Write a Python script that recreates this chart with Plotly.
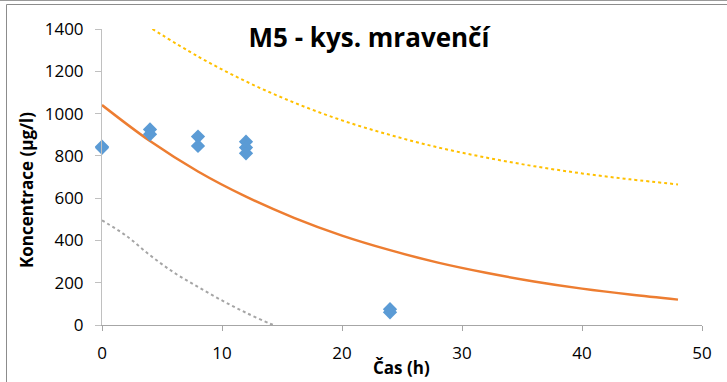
import plotly.graph_objects as go

# Measured concentrations of formic acid (sample M5)
meas_time = [0, 0, 4, 4, 8, 8, 12, 12, 12, 24, 24]
meas_conc = [843, 838, 925, 902, 891, 847, 867, 839, 812, 75, 60]

# Exponential fit curve
fit_time = [0, 4, 8, 12, 16, 20, 24, 28, 32, 36, 40, 44, 48]
fit_conc = [1040, 870, 726, 607, 507, 423, 354, 295, 247, 206, 172, 144, 120]

# Upper bound (dotted yellow)
upper_time = [4.2, 8, 12, 16, 20, 24, 28, 32, 36, 40, 44, 48]
upper_conc = [1400, 1270, 1152, 1052, 968, 899, 840, 792, 751, 717, 689, 665]

# Lower bound (dotted gray)
lower_time = [0, 2, 4, 6, 8, 10, 12, 14, 14.3]
lower_conc = [495, 423, 330, 248, 180, 116, 58, 6, 0]

x_ticks = [0, 10, 20, 30, 40, 50]
y_ticks = [0, 200, 400, 600, 800, 1000, 1200, 1400]

W, H = 727, 382
L, R, T, B = 102, 25, 29, 57
pw, ph = W - L - R, H - T - B

def px(x):
    return (x - L) / pw

def py(y):
    return (H - B - y) / ph

FONT = "Open Sans"
tick_font = dict(family=FONT, size=17, color="#000000")

fig = go.Figure()
fig.add_trace(go.Scatter(x=upper_time, y=upper_conc, mode="lines", line_shape="spline",
                         line=dict(color="#ffc000", width=2, dash="dot"), hoverinfo="skip"))
fig.add_trace(go.Scatter(x=lower_time, y=lower_conc, mode="lines", line_shape="spline",
                         line=dict(color="#a5a5a5", width=2, dash="dot"), hoverinfo="skip"))
fig.add_trace(go.Scatter(x=fit_time, y=fit_conc, mode="lines", line_shape="spline",
                         line=dict(color="#ed7d31", width=2.5), hoverinfo="skip"))
fig.add_trace(go.Scatter(x=meas_time, y=meas_conc, mode="markers",
                         marker=dict(symbol="diamond", size=11, color="#5b9bd5"),
                         cliponaxis=False))

fig.update_layout(
    width=W, height=H,
    margin=dict(l=L, r=R, t=T, b=B),
    paper_bgcolor="white", plot_bgcolor="white",
    showlegend=False,
    font=dict(family=FONT, size=17, color="#000000"),
    title=dict(text="<b>M5 - kys. mravenčí</b>", font=dict(family=FONT, size=26, color="black"),
               xref="container", yref="container", x=369 / W, y=1 - 38 / H,
               xanchor="center", yanchor="middle"),
)
fig.update_xaxes(range=[0, 50], tickvals=x_ticks, showgrid=False, zeroline=False,
                 showline=True, linecolor="#a6a6a6", linewidth=1,
                 ticks="outside", ticklen=5, tickcolor="#a6a6a6",
                 tickfont=tick_font, ticklabelstandoff=8)
fig.update_yaxes(range=[0, 1400], tickvals=y_ticks, showgrid=False, zeroline=False,
                 showline=True, linecolor="#c0c0c0", linewidth=1,
                 ticks="outside", ticklen=6, tickcolor="#c0c0c0",
                 tickfont=tick_font, ticklabelstandoff=8)

fig.add_annotation(text="<b>Koncentrace (µg/l)</b>", textangle=-90, showarrow=False,
                   xref="paper", yref="paper", x=px(27), y=py(190),
                   xanchor="center", yanchor="middle", font=dict(family=FONT, size=17, color="black"))
fig.add_annotation(text="<b>Čas (h)</b>", showarrow=False,
                   xref="paper", yref="paper", x=px(401), y=py(367),
                   xanchor="center", yanchor="middle", font=dict(family=FONT, size=17, color="black"))

# Chart frame
fig.add_shape(type="line", xref="paper", yref="paper", x0=px(0), x1=px(W), y0=py(0.5), y1=py(0.5),
              line=dict(color="#9a9a9a", width=1))
fig.add_shape(type="line", xref="paper", yref="paper", x0=px(6.5), x1=px(W), y0=py(4.5), y1=py(4.5),
              line=dict(color="#8c8c8c", width=1))
fig.add_shape(type="line", xref="paper", yref="paper", x0=px(6.5), x1=px(6.5), y0=py(4.5), y1=py(H),
              line=dict(color="#8c8c8c", width=1))

fig.write_html("out.html")
